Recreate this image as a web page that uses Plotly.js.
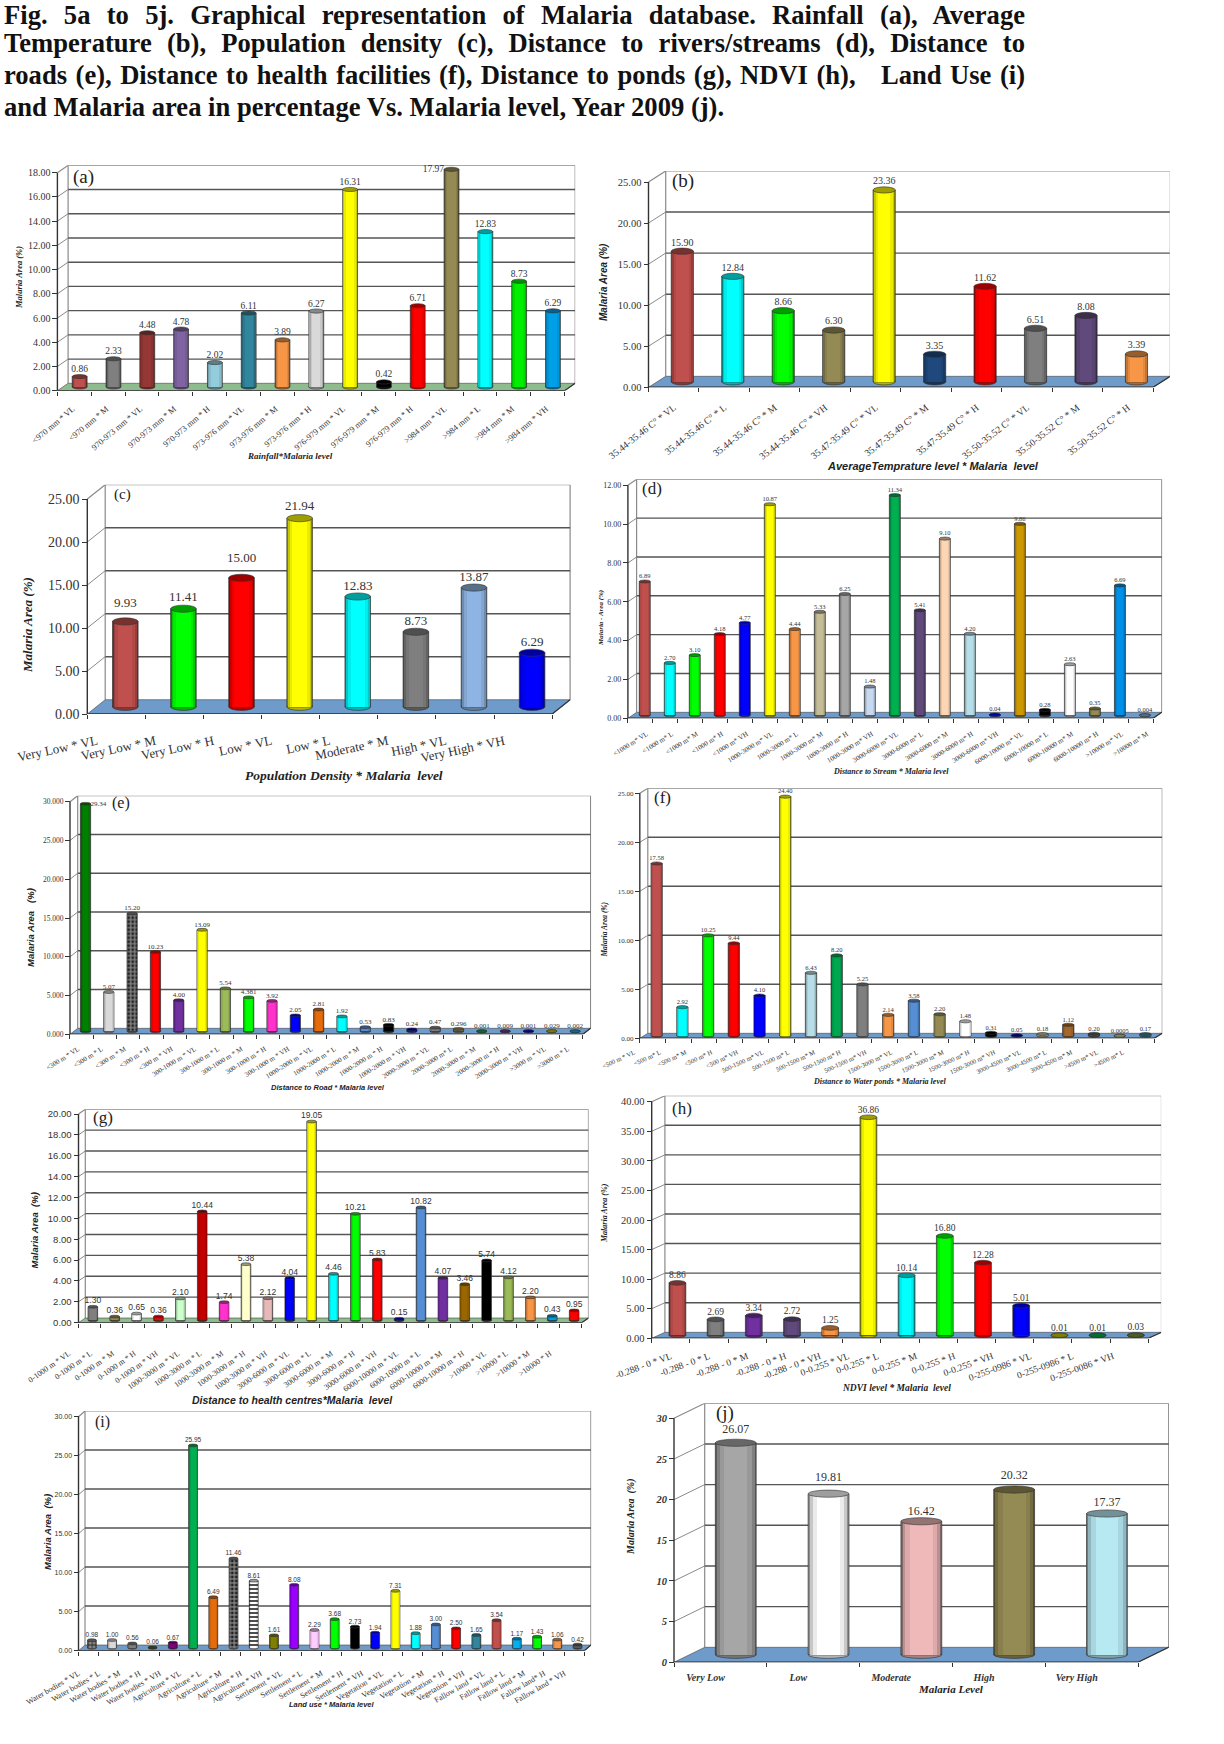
<!DOCTYPE html>
<html><head><meta charset="utf-8">
<script src="https://cdn.plot.ly/plotly-3.0.1.min.js"></script>
<style>
html,body{margin:0;padding:0;background:#fff}
#wrap{position:relative;width:1224px;height:1744px;overflow:hidden}
#plot{position:absolute;left:0;top:0;width:1224px;height:1744px}
.cap{position:absolute;left:4px;width:1021px;font:bold 26.6px/25px "Liberation Serif",serif;color:#111;white-space:normal;text-align:justify;text-align-last:justify}
.cap.last{text-align-last:left}
</style></head><body>
<div id="wrap">
<div id="plot"></div>
<div class="cap" style="top:3px">Fig. 5a to 5j. Graphical representation of Malaria database. Rainfall (a), Average</div>
<div class="cap" style="top:31px">Temperature (b), Population density (c), Distance to rivers/streams (d), Distance to</div>
<div class="cap" style="top:63px">roads (e), Distance to health facilities (f), Distance to ponds (g), NDVI (h),&nbsp;&nbsp; Land Use (i)</div>
<div class="cap last" style="top:95px">and Malaria area in percentage Vs. Malaria level, Year 2009 (j).</div>
</div>
<script>
// ---------- data ----------
var cats_a=["<970 mm * VL","<970 mm * M","970-973 mm * VL","970-973 mm * M","970-973 mm * H","973-976 mm * VL","973-976 mm * M","973-976 mm * H","976-979 mm * VL","976-979 mm * M","976-979 mm * H",">984 mm * VL",">984 mm * L",">984 mm * M",">984 mm * VH"];
var vals_a=[0.86,2.33,4.48,4.78,2.02,6.11,3.89,6.27,16.31,0.42,6.71,17.97,12.83,8.73,6.29];
var colors_a=["#c0504d","#7f7f7f","#953735","#8064a2","#93cddd","#31859c","#f79646","#d9d9d9","#ffff00","#000000","#ff0000","#948a54","#00ffff","#00ee00","#00a0e8"];

var cats_b=["35.44-35.46 C° * VL","35.44-35.46 C° * L","35.44-35.46 C° * M","35.44-35.46 C° * VH","35.47-35.49 C° * VL","35.47-35.49 C° * M","35.47-35.49 C° * H","35.50-35.52 C° * VL","35.50-35.52 C° * M","35.50-35.52 C° * H"];
var vals_b=[15.90,12.84,8.66,6.30,23.36,3.35,11.62,6.51,8.08,3.39];
var colors_b=["#c0504d","#00ffff","#00ff00","#948a54","#ffff00","#1f497d","#ff0000","#7f7f7f","#604a7b","#f79646"];

var cats_c=["Very Low * VL","Very Low * M","Very Low * H","Low * VL","Low * L","Moderate * M","High * VL","Very High * VH"];
var vals_c=[9.93,11.41,15.00,21.94,12.83,8.73,13.87,6.29];
var colors_c=["#c0504d","#00ff00","#ff0000","#ffff00","#00ffff","#7f7f7f","#8db4e2","#0000ff"];

var cats_d=["<1000 m* VL","<1000 m* L","<1000 m* M","<1000 m* H","<1000 m* VH","1000-3000 m* VL","1000-3000 m* L","1000-3000 m* M","1000-3000 m* H","1000-3000 m* VH","3000-6000 m* VL","3000-6000 m* L","3000-6000 m* M","3000-6000 m* H","3000-6000 m* VH","6000-10000 m* VL","6000-10000 m* L","6000-10000 m* M","6000-10000 m* H",">10000 m* VL",">10000 m* M"];
var vals_d=[6.89,2.70,3.10,4.18,4.77,10.87,4.44,5.33,6.25,1.48,11.34,5.41,9.10,4.20,0.04,9.86,0.28,2.63,0.35,6.69,0.004];
var colors_d=["#c0504d","#00ffff","#00ff00","#ff0000","#0000ff","#ffff00","#f79646","#c4bd97","#a6a6a6","#c6d9f0","#00b050","#604a7b","#fcd5b4","#b7dee8","#0000ff","#cc9900","#000000","#ffffff","#948a54","#0090e8","#8db4e2"];

var cats_e=["<300 m * VL","<300 m * L","<300 m * M","<300 m * H","<300 m * VH","300-1000 m * VL","300-1000 m * L","300-1000 m * M","300-1000 m * H","300-1000 m * VH","1000-2000 m * VL","1000-2000 m * L","1000-2000 m * M","1000-2000 m * H","1000-2000 m * VH","2000-3000 m * VL","2000-3000 m* L","2000-3000 m * M","2000-3000 m * H","2000-3000 m * VH",">3000 m * VL",">3000 m * L"];
var vals_e=[29.34,5.07,15.20,10.23,4.00,13.09,5.54,4.381,3.92,2.05,2.81,1.92,0.53,0.83,0.24,0.47,0.296,0.001,0.009,0.001,0.029,0.002];
var colors_e=["#008000","#d9d9d9","#7f7f7f","#ff0000","#7030a0","#ffff00","#9bbb59","#00ff00","#ff33cc","#0000ff","#e46c0a","#00ffff","#558ed5","#000000","#0000cc","#7f7f7f","#948a54","#00b050","#7030a0","#0000ff","#cccc00","#00b0f0"];
var patterns_e=["","",".","","","","","","","","","","","","","","","","","","",""];

var cats_f=["<500 m * VL","<500 m* L","<500 m* M","<500 m* H","<500 m* VH","500-1500 m* VL","500-1500 m* L","500-1500 m* M","500-1500 m* H","500-1500 m* VH","1500-3000 m* VL","1500-3000 m* L","1500-3000 m* M","1500-3000 m* H","1500-3000 m* VH","3000-4500 m* VL","3000-4500 m* L","3000-4500 m* M",">4500 m* VL",">4500 m* L"];
var vals_f=[17.58,2.92,10.25,9.44,4.10,24.40,6.43,8.20,5.25,2.14,3.58,2.20,1.48,0.31,0.05,0.18,1.12,0.20,0.0005,0.17];
var colors_f=["#c0504d","#00ffff","#00ff00","#ff0000","#0000ff","#ffff00","#b7dee8","#00a650","#7f7f7f","#f79646","#558ed5","#948a54","#ffffff","#000000","#0000cc","#c4bd97","#a5682a","#595959","#c4d79b","#31859c"];

var cats_g=["0-1000 m * VL","0-1000 m * L","0-1000 m * M","0-1000 m * H","0-1000 m * VH","1000-3000 m * VL","1000-3000 m * L","1000-3000 m * M","1000-3000 m * H","1000-3000 m * VH","3000-6000 m * VL","3000-6000 m * L","3000-6000 m * M","3000-6000 m * H","3000-6000 m * VH","6000-10000 m * VL","6000-10000 m * L","6000-10000 m * M","6000-10000 m * H",">10000 * VL",">10000 * L",">10000 * M",">10000 * H"];
var vals_g=[1.30,0.36,0.65,0.36,2.10,10.44,1.74,5.38,2.12,4.04,19.05,4.46,10.21,5.83,0.15,10.82,4.07,3.46,5.74,4.12,2.20,0.43,0.95];
var colors_g=["#7f7f7f","#948a54","#ffffff","#ff0000","#ccffcc","#c00000","#ff33cc","#ffffcc","#e6b9b8","#0000ff","#ffff00","#00ffff","#00ff00","#ff0000","#0000cc","#558ed5","#7030a0","#996600","#000000","#9bbb59","#f79646","#00a0e0","#ff0000"];

var cats_h=["-0.288 - 0 * VL","-0.288 - 0 * L","-0.288 - 0 * M","-0.288 - 0 * H","-0.288 - 0 * VH","0-0.255 * VL","0-0.255 * L","0-0.255 * M","0-0.255 * H","0-0.255 * VH","0-255-0986 * VL","0-255-0986 * L","0-255-0086 * VH"];
var vals_h=[8.86,2.69,3.34,2.72,1.25,36.86,10.14,16.80,12.28,5.01,0.01,0.01,0.03];
var colors_h=["#c0504d","#7f7f7f","#7030a0","#604a7b","#f79646","#ffff00","#00ffff","#00ff00","#ff0000","#0000ff","#cccc00","#00b050","#77933c"];

var cats_i=["Water bodies * VL","Water bodies * L","Water bodies * M","Water bodies * H","Water bodies * VH","Agriculture * VL","Agriculture * L","Agriculture * M","Agriculture * H","Agriculture * VH","Settlement * VL","Settlement * L","Settlement * M","Settlement * H","Settlement * VH","Vegetation * VL","Vegetation * L","Vegetation * M","Vegetation * H","Vegetation * VH","Fallow land * VL","Fallow land * L","Fallow land * M","Fallow land* H","Fallow land * VH"];
var vals_i=[0.98,1.00,0.56,0.06,0.67,25.95,6.49,11.46,8.61,1.61,8.08,2.29,3.68,2.73,1.94,7.31,1.88,3.00,2.50,1.65,3.54,1.17,1.43,1.06,0.42];
var colors_i=["#8c8c8c","#d9d9d9","#7f7f7f","#4f6228","#800080","#00b050","#e46c0a","#7f7f7f","#ffffff","#7f7f00","#9900ff","#ffccff","#00ff00","#000000","#0000ff","#ffff00","#00ffff","#558ed5","#ff0000","#31859c","#c0504d","#00b0f0","#00ff00","#f79646","#595959"];
var patterns_i=["+","","","","","","",".","-","","","","","","","","","","","","","","","",""];

var cats_j=["Very Low","Low","Moderate","High","Very High"];
var vals_j=[26.07,19.81,16.42,20.32,17.37];
var colors_j=["#a6a6a6","#ffffff","#efb9b9","#948a54","#b7e9f3"];

// ---------- panel geometry (pixels on the page) and styling ----------
var SERIF='"Liberation Serif",serif', SANS='"Liberation Sans",sans-serif';
var panels=[
 {id:'a',cats:cats_a,vals:vals_a,colors:colors_a,fx:57.4,right:564.5,bx:68.1,bright:575.2,y0:390.7,ytop:172.7,btop:165.3,ymax:18,dtick:2,dec:2,floor:'#8fbc8f',tickF:10,tickFam:SERIF,labF:9.5,labFam:SERIF,xF:8.5,angle:-40,stand:9,xShift:-0.05,
  labPos:{11:'middle left'},
  letter:[83,177,19],ytitle:[19,278,8.5,SERIF],ytxt:'Malaria Area (%)',xtitle:[290,456,9,SERIF],xtxt:'Rainfall*Malaria level'},
 {id:'b',cats:cats_b,vals:vals_b,colors:colors_b,fx:648.5,right:1153.1,bx:665.7,bright:1169.8,y0:387.3,ytop:182,btop:171,ymax:25,dtick:5,dec:2,floor:'#6f9bcb',tickF:10.5,tickFam:SERIF,labF:10,labFam:SERIF,xF:9.7,angle:-38,stand:10,
  letter:[683,181,19],ytitle:[603,282,10,SANS],ytxt:'Malaria Area (%)',xtitle:[933,466,11,SANS],xtxt:'AverageTemprature level * Malaria  level'},
 {id:'c',cats:cats_c,vals:vals_c,colors:colors_c,fx:87.3,right:552.2,bx:105.2,bright:572.1,y0:714,ytop:499,btop:484.7,ymax:25,dtick:5,dec:2,floor:'#6f9bcb',tickF:14,tickFam:SERIF,labF:13,labFam:SERIF,xF:13,angle:-12,stand:14,xShift:-0.33,
  labGap:[8,1,9,1,0,0,0,0],
  letter:[122,495,15],ytitle:[28,625,13,SERIF],ytxt:'Malaria Area (%)',xtitle:[344,775,13.5,SERIF],xtxt:'Population Density * Malaria  level'},
 {id:'d',cats:cats_d,vals:vals_d,colors:colors_d,fx:627.9,right:1153.1,bx:636.6,bright:1162.3,y0:718.3,ytop:485.3,btop:479.3,ymax:12,dtick:2,dec:2,floor:'#6f9bcb',tickF:8,tickFam:SERIF,labF:6.5,labFam:SERIF,xF:7,angle:-32,stand:8,xShift:0.25,
  letter:[652,488,17],ytitle:[601,618,7,SERIF],ytxt:'Malaria - Area (%)',xtitle:[891,771,8,SERIF],xtxt:'Distance to Stream * Malaria level'},
 {id:'e',cats:cats_e,vals:vals_e,colors:colors_e,pats:patterns_e,fx:70,right:582.9,bx:77.7,bright:591.3,y0:1034.3,ytop:801.7,btop:795.7,ymax:30,dtick:5,dec:3,floor:'#6f9bcb',tickF:7.5,tickFam:SERIF,labF:7,labFam:SERIF,xF:7,angle:-32,stand:7,xShift:-0.15,
  labPos:{0:'middle right'},
  letter:[120.5,803,16],ytitle:[30,928,9.5,SANS],ytxt:'Malaria Area   (%)',xtitle:[328,1087,7.5,SANS],xtxt:'Distance to Road * Malaria level'},
 {id:'f',cats:cats_f,vals:vals_f,colors:colors_f,fx:639.8,right:1154.3,bx:647.8,bright:1162.3,y0:1038.3,ytop:793.3,btop:788.3,ymax:25,dtick:5,dec:2,floor:'#6f9bcb',tickF:7,tickFam:SERIF,labF:6.5,labFam:SERIF,xF:6.5,angle:-25,stand:7,xShift:-0.72,
  letter:[662,798,17],ytitle:[603.6,930,7.5,SERIF],ytxt:'Malaria Area (%)',xtitle:[879,1081,8,SERIF],xtxt:'Distance to Water ponds * Malaria level'},
 {id:'g',cats:cats_g,vals:vals_g,colors:colors_g,fx:78.5,right:581.7,bx:85.3,bright:588.6,y0:1322.7,ytop:1114,btop:1109.3,ymax:20,dtick:2,dec:2,floor:'#8fbc8f',tickF:9.5,tickFam:SANS,labF:8.5,labFam:SANS,xF:8,angle:-35,stand:22,xShift:-0.95,
  letter:[103,1117,17],ytitle:[34.4,1230,9.5,SANS],ytxt:'Malaria Area  (%)',xtitle:[292,1400,10.5,SANS],xtxt:'Distance to health centres*Malaria  level'},
 {id:'h',cats:cats_h,vals:vals_h,colors:colors_h,fx:651.7,right:1148.3,bx:664.9,bright:1161.1,y0:1338.3,ytop:1101.7,btop:1095.7,ymax:40,dtick:5,dec:2,floor:'#6f9bcb',tickF:10.5,tickFam:SERIF,labF:9.5,labFam:SERIF,xF:9.5,angle:-20,stand:8,
  xShifts:[0,0,0,0,-0.1,-0.35,-0.58,-0.58,-0.58,-0.58,-0.58,-0.48,-0.42],
  letter:[682,1108,17],ytitle:[604,1213,8,SERIF],ytxt:'Malaria Area (%)',xtitle:[897,1388,9.5,SERIF],xtxt:'NDVI level * Malaria  level'},
 {id:'i',cats:cats_i,vals:vals_i,colors:colors_i,pats:patterns_i,fx:78.5,right:584.4,bx:85,bright:591.3,y0:1650.7,ytop:1416.7,btop:1411,ymax:30,dtick:5,dec:2,floor:'#6f9bcb',tickF:7,tickFam:SANS,labF:6.5,labFam:SANS,xF:8,angle:-30,stand:14,xShift:-0.5,
  letter:[102,1422,16],ytitle:[47,1532,9.5,SANS],ytxt:'Malaria Area  (%)',xtitle:[332,1704,7.5,SANS],xtxt:'Land use * Malaria level'},
 {id:'j',cats:cats_j,vals:vals_j,colors:colors_j,fx:674,right:1138,bx:704.7,bright:1169,y0:1662.3,ytop:1418.3,btop:1403.3,ymax:30,dtick:5,dec:0,floor:'#6f9bcb',tickF:10.5,tickFam:SERIF,tickBI:true,labF:12,labFam:SERIF,xF:10,angle:0,stand:6,xShift:-0.16,xBI:true,
  labGap:[3,6,0,4,1],
  letter:[725,1413,19],ytitle:[631,1517,10,SERIF],ytxt:'Malaria Area  (%)',xtitle:[951,1689,11,SERIF],xtxt:'Malaria Level'}
];

var W=1224,H=1744;
var PAD=1;  // spare category on the left of each x axis so shifted tick labels stay in range
var layerWidths=[1.0,0.92,0.78,0.56];
var layerShade=[0.55,0.78,0.92,1.0];
function shade(hex,f){
  var r=parseInt(hex.substr(1,2),16),g=parseInt(hex.substr(3,2),16),b=parseInt(hex.substr(5,2),16);
  return 'rgb('+Math.round(r*f)+','+Math.round(g*f)+','+Math.round(b*f)+')';
}
function fmt(v){var s=String(v);var d=(s.split('.')[1]||'').length;return d>2?s:v.toFixed(2);}

var traces=[],shapes=[],annotations=[],layout={};
panels.forEach(function(p,k){
  var n=p.cats.length,sfx=k===0?'':String(k+1);
  var catW=(p.right-p.fx)/n, yU=(p.y0-p.ytop)/p.ymax;
  var dxD=(p.bx-p.fx)/catW, dyD=(p.ytop-p.btop)/yU;
  var xEnd=n-0.5, xa='x'+sfx, ya='y'+sfx;
  var xs=p.cats.map(function(c,i){return i+dxD/2;});
  var barW=0.44, barPx=barW*catW;
  var hh=Math.min(3.6,Math.max(1.4,barPx*0.14))/yU;
  var frame='#8a8a8a', grid='#555555';
  layout['xaxis'+sfx]={domain:[(p.fx-PAD*catW)/W,p.bright/W],range:[-0.5-PAD,-0.5+(p.bright-p.fx)/catW],anchor:ya,showgrid:false,zeroline:false,showline:false,
    tickmode:'array',tickvals:p.cats.map(function(c,i){return i+(p.xShifts?p.xShifts[i]:(p.xShift||0));}),ticktext:p.cats,tickangle:p.angle,
    ticks:'outside',ticklen:p.stand,tickcolor:'rgba(0,0,0,0)',
    tickfont:{family:SERIF,size:p.xF,color:'#333',weight:p.xBI?'bold':'normal',style:p.xBI?'italic':'normal'},
    minor:{ticks:'outside',tickmode:'array',tickvals:Array.from({length:n+1},function(_,i){return i-0.5;}),ticklen:4,tickcolor:'#333',tickwidth:1,showgrid:false}};
  var tv=[];for(var t=0;t<=p.ymax+1e-9;t+=p.dtick)tv.push(t);
  layout['yaxis'+sfx]={domain:[1-p.y0/H,1-p.btop/H],range:[0,(p.y0-p.btop)/yU],anchor:'free',overlaying:undefined,position:p.fx/W,showgrid:false,zeroline:false,showline:false,
    tickmode:'array',tickvals:tv,ticktext:tv.map(function(v){return v.toFixed(p.dec);}),ticks:'outside',ticklen:5,tickcolor:'#333',
    tickfont:{family:p.tickFam,size:p.tickF,color:'#333',weight:p.tickBI?'bold':'normal',style:p.tickBI?'italic':'normal'}};

  function S(o,layer){o.xref=xa;o.yref=ya;o.layer=layer||'below';shapes.push(o);}
  var xBackR=xEnd+dxD,xBackL=-0.5+dxD;
  // walls
  S({type:'line',x0:xBackL,x1:xBackL,y0:dyD,y1:p.ymax+dyD,line:{color:frame,width:1.2}});
  S({type:'line',x0:xBackR,x1:xBackR,y0:dyD,y1:p.ymax+dyD,line:{color:frame,width:1.2}});
  S({type:'line',x0:xBackL,x1:xBackR,y0:p.ymax+dyD,y1:p.ymax+dyD,line:{color:frame,width:1.2}});
  S({type:'line',x0:-0.5,x1:xBackL,y0:p.ymax,y1:p.ymax+dyD,line:{color:frame,width:1.2}});
  tv.forEach(function(v){
    if(v>0&&v<p.ymax) S({type:'line',x0:xBackL,x1:xBackR,y0:v+dyD,y1:v+dyD,line:{color:grid,width:1.4}});
    if(v>0&&v<p.ymax) S({type:'line',x0:-0.5,x1:xBackL,y0:v,y1:v+dyD,line:{color:frame,width:1}});
  });
  // floor
  S({type:'path',path:'M -0.5,0 L '+xEnd+',0 L '+xBackR+','+dyD+' L '+xBackL+','+dyD+' Z',fillcolor:p.floor,line:{color:'#444',width:0.6}});
  // axis lines
  S({type:'line',x0:-0.5,x1:-0.5,y0:0,y1:p.ymax,line:{color:'#333',width:1.4}});
  S({type:'line',x0:-0.5,x1:xEnd,y0:0,y1:0,line:{color:'#333',width:1.4}});
  S({type:'line',x0:xEnd,x1:xBackR,y0:0,y1:dyD,line:{color:'#333',width:1.2}});
  // cylinders: base ellipse below, top ellipse above
  p.vals.forEach(function(v,i){
    var c=p.colors[i];
    S({type:'circle',x0:xs[i]-barW/2,x1:xs[i]+barW/2,y0:dyD/2-hh,y1:dyD/2+hh,fillcolor:shade(c,0.7),line:{color:'#333',width:0.6}});
    S({type:'circle',x0:xs[i]-barW/2,x1:xs[i]+barW/2,y0:v+dyD/2-hh,y1:v+dyD/2+hh,fillcolor:shade(c,0.62),line:{color:'#333',width:0.6}},'above');
  });
  // cylinder body as overlaid bars with lighter core
  layerWidths.forEach(function(w,li){
    var mk={color:p.colors.map(function(c){return shade(c,layerShade[li]);}),line:{width:li===0?0.7:0,color:'#333'}};
    traces.push({type:'bar',xaxis:xa,yaxis:ya,x:xs,y:p.vals,base:dyD/2,width:barW*w,marker:mk,hoverinfo:'skip',showlegend:false});
  });
  if(p.pats){
    traces.push({type:'bar',xaxis:xa,yaxis:ya,x:xs,y:p.vals,base:dyD/2,width:barW*0.96,hoverinfo:'skip',showlegend:false,
      marker:{color:'rgba(0,0,0,0)',line:{width:0},pattern:{shape:p.pats,fgcolor:'#222',bgcolor:'rgba(0,0,0,0)',size:4,solidity:0.4}}});
  }
  // value labels
  var posMap=p.labPos||{};
  traces.push({type:'scatter',mode:'text',xaxis:xa,yaxis:ya,
    x:xs.map(function(x,i){return posMap[i]==='middle left'?x-barW/2:posMap[i]==='middle right'?x+barW/2:x;}),
    y:p.vals.map(function(v,i){return posMap[i]?v+dyD/2:v+dyD/2+hh+(p.labGap?p.labGap[i]/yU:0);}),
    text:p.vals.map(function(v){return fmt(v);}),
    textposition:p.vals.map(function(v,i){return posMap[i]||'top center';}),cliponaxis:false,
    textfont:{family:p.labFam,size:p.labF,color:'#333'},hoverinfo:'skip',showlegend:false});
  // texts
  var base={xref:'paper',yref:'paper',xanchor:'center',yanchor:'middle',showarrow:false};
  annotations.push(Object.assign({},base,{x:p.letter[0]/W,y:1-p.letter[1]/H,text:'('+p.id+')',font:{family:SERIF,size:p.letter[2],color:'#222'}}));
  annotations.push(Object.assign({},base,{x:p.ytitle[0]/W,y:1-p.ytitle[1]/H,text:p.ytxt,textangle:-90,
    font:{family:p.ytitle[3],size:p.ytitle[2],color:'#222',weight:'bold',style:'italic'}}));
  annotations.push(Object.assign({},base,{x:p.xtitle[0]/W,y:1-p.xtitle[1]/H,text:p.xtxt,
    font:{family:p.xtitle[3],size:p.xtitle[2],color:'#222',weight:'bold',style:'italic'}}));
});

layout.width=W;layout.height=H;layout.margin={l:0,r:0,t:0,b:0};
layout.paper_bgcolor='#fff';layout.plot_bgcolor='rgba(0,0,0,0)';
layout.barmode='overlay';layout.bargap=0;layout.showlegend=false;
layout.shapes=shapes;layout.annotations=annotations;
Plotly.newPlot('plot',traces,layout,{displayModeBar:false,staticPlot:true});
</script>
</body></html>
